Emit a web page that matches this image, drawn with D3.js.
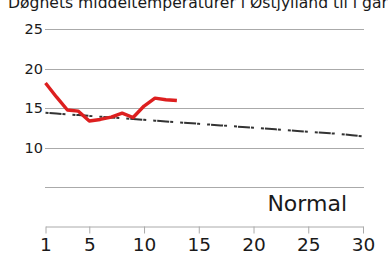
<!DOCTYPE html>
<html>
<head>
  <meta charset="utf-8">
  <script src="https://d3js.org/d3.v7.min.js"></script>
  <style>
    body { margin: 0; background: #fff; }
    text { font-family: "DejaVu Sans", sans-serif; fill: #1a1a1a; }
    .grid line { stroke: #aaa; stroke-width: 1; }
  </style>
</head>
<body>
  <script>
    // dagens middeltemperatur (dag 1..13) og normalen for hele maaneden
    var days = d3.range(1, 31);
    var measured = [18.16, 16.4, 14.75, 14.6, 13.35, 13.55, 13.85, 14.35, 13.8, 15.25, 16.25, 16.05, 15.95];
    var normal = [14.4, 14.3, 14.2, 14.1, 14.0, 13.9, 13.8, 13.7, 13.6, 13.5,
                  13.4, 13.3, 13.2, 13.1, 13.0, 12.9, 12.8, 12.7, 12.6, 12.5,
                  12.4, 12.3, 12.2, 12.1, 12.0, 11.9, 11.8, 11.7, 11.55, 11.4];
    var yTicks = [25, 20, 15, 10];
    var gridVals = [25, 20, 15, 10, 5];
    var xTicks = [1, 5, 10, 15, 20, 25, 30];

    var width = 388,
    height = 256;

    var svg = d3.select( "body" )
      .append( "svg" )
      .attr( "width", width )
      .attr( "height", height );

    var x = d3.scaleLinear().domain( [1, 30] ).range( [45.5, 363] );
    var y = d3.scaleLinear().domain( [5, 25] ).range( [187, 29] );

    // titlen er skaaret af i toppen, ligesom i originalen
    svg.append( "text" )
      .attr( "x", 8 )
      .attr( "y", 7.5 )
      .style( "font-size", "15.6px" )
      .text( "Døgnets middeltemperaturer i Østjylland til i går" );

    var grid = svg.append( "g" ).attr( "class", "grid" );
    grid.selectAll( "line" )
      .data( gridVals )
      .enter()
      .append( "line" )
      .attr( "x1", 45 )
      .attr( "x2", 364 )
      .attr( "y1", function(d){ return Math.round( y(d) ) + 0.5; } )
      .attr( "y2", function(d){ return Math.round( y(d) ) + 0.5; } );

    svg.selectAll( ".ylab" )
      .data( yTicks )
      .enter()
      .append( "text" )
      .attr( "class", "ylab" )
      .attr( "x", 43 )
      .attr( "y", function(d){ return y(d); } )
      .attr( "dy", "0.36em" )
      .attr( "text-anchor", "end" )
      .style( "font-size", "14.5px" )
      .text( function(d){ return d; } );

    var xAxis = svg.append( "g" )
      .attr( "transform", "translate(0,226.5)" )
      .call( d3.axisBottom( x ).tickValues( xTicks ).tickSize( 7 ).tickSizeOuter( 0 ).tickPadding( 4 ) );
    xAxis.select( ".domain" ).attr( "stroke", "#aaa" );
    xAxis.selectAll( ".tick line" ).attr( "stroke", "#aaa" );
    xAxis.selectAll( "text" )
      .style( "font-size", "18.5px" )
      .style( "font-family", "DejaVu Sans, sans-serif" )
      .attr( "fill", "#1a1a1a" );

    var line = d3.line()
      .x(function(d, i){ return x( i + 1 ); })
      .y(function(d){ return y( d ); });

    svg.append( "path" )
      .datum( normal )
      .attr( "d", line )
      .attr( "fill", "none" )
      .attr( "stroke", "#333" )
      .attr( "stroke-width", 2 )
      .attr( "stroke-dasharray", "3,1,12,1,3,7" );

    svg.append( "path" )
      .datum( measured )
      .attr( "d", line )
      .attr( "fill", "none" )
      .attr( "stroke", "#dd1f1f" )
      .attr( "stroke-width", 3.4 )
      .attr( "stroke-linejoin", "round" );

    svg.append( "text" )
      .attr( "x", 347 )
      .attr( "y", 211 )
      .attr( "text-anchor", "end" )
      .style( "font-size", "22px" )
      .text( "Normal" );
  </script>
</body>
</html>
